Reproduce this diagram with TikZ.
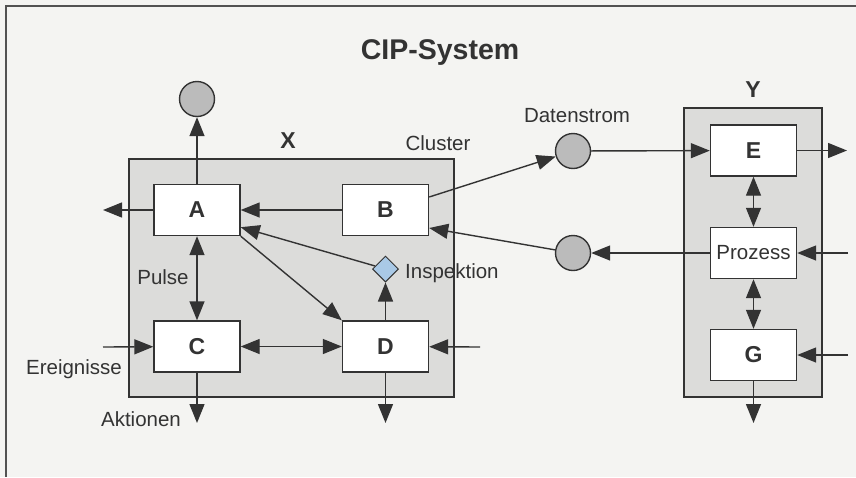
\documentclass[tikz,border=0pt]{standalone}
\usepackage{fontspec}
\setmainfont{Liberation Sans}
\usetikzlibrary{arrows.meta,shapes.geometric,calc}
\definecolor{bgc}{HTML}{F4F4F2}
\definecolor{linec}{HTML}{333333}
\definecolor{txtc}{HTML}{333333}
\definecolor{clusterc}{HTML}{DCDCDA}
\definecolor{circc}{HTML}{BBBBBB}
\definecolor{diac}{HTML}{A9C9E6}
\tikzset{
  lbl/.style={font=\fontsize{20.5}{24}\selectfont, text=txtc, inner sep=0pt},
  hdr/.style={font=\bfseries\fontsize{23}{26}\selectfont, text=txtc, inner sep=0pt},
  clusterbox/.style={draw=linec, line width=1.4pt, fill=clusterc, inner sep=0pt},
  blockbox/.style={draw=linec, line width=1.4pt, fill=white, minimum width=86pt, minimum height=51pt, inner sep=0pt, font=\bfseries\fontsize{23}{26}\selectfont, text=txtc},
  procbox/.style={blockbox, font=\fontsize{20.5}{24}\selectfont},
  flowcirc/.style={circle, draw=linec, line width=1.4pt, fill=circc, minimum size=35pt, inner sep=0pt},
  inspd/.style={diamond, draw=linec, line width=1pt, fill=diac, minimum width=26pt, minimum height=26pt, inner sep=0pt},
  arr/.style={draw=linec, line width=1.4pt, -{Triangle[length=19pt,width=15pt]}},
  darr/.style={draw=linec, line width=1.4pt, {Triangle[length=19pt,width=15pt]}-{Triangle[length=19pt,width=15pt]}}
}
\begin{document}
\begin{tikzpicture}[x=1pt,y=-1pt]
\useasboundingbox (0,0) rectangle (856,477);
\fill[bgc] (0,0) rectangle (856,477);
\draw[draw=linec!85, line width=1.5pt] (856,6) -- (6,6) -- (6,477);

% clusters
\node[clusterbox, minimum width=325pt, minimum height=238pt] (X) at (291.5,278) {};
\node[clusterbox, minimum width=138pt, minimum height=289pt] (Y) at (753,252.5) {};

% titles and labels
\node[text=txtc, inner sep=0pt, font=\bfseries\fontsize{28.5}{32}\selectfont, anchor=base] (title) at (440,59) {CIP-System};
\node[hdr, anchor=base] (xl) at (288,148) {X};
\node[hdr, anchor=base] (yl) at (753,97) {Y};
\node[lbl, anchor=base] (cl) at (438,150) {Cluster};
\node[lbl, anchor=base] (dl) at (577,122) {Datenstrom};
\node[lbl, anchor=base] (pl) at (163,284) {Pulse};
\node[lbl, anchor=base] (el) at (74,374) {Ereignisse};
\node[lbl, anchor=base] (al) at (141,426.5) {Aktionen};
\node[lbl, anchor=base west] (il) at (405,278) {Inspektion};

% blocks
\node[blockbox] (A) at (197,210) {A};
\node[blockbox] (B) at (385.5,210) {B};
\node[blockbox] (C) at (197,346.5) {C};
\node[blockbox] (D) at (385.5,346.5) {D};
\node[blockbox] (E) at (753.5,150.5) {E};
\node[procbox] (P) at (753.5,253) {Prozess};
\node[blockbox] (G) at (753.5,355) {G};

% circles and diamond
\node[flowcirc] (ctop) at (197,99) {};
\node[flowcirc] (c1) at (573,151) {};
\node[flowcirc] (c2) at (573,253) {};
\node[inspd] (insp) at (385.5,269) {};

% free ends
\coordinate (aL) at (103,210);
\coordinate (eIn) at (103,347);
\coordinate (cOut) at (197,423);
\coordinate (dOut) at (385.5,423);
\coordinate (dIn) at (480,347);
\coordinate (eOut) at (847,150.5);
\coordinate (pIn) at (848,253);
\coordinate (gIn) at (848,355);
\coordinate (gOut) at (753.5,423);

% connectors cluster X
\draw[arr] (A) -- (ctop);
\draw[arr] (A) -- (aL);
\draw[arr] (B) -- (A);
\draw[darr] (A) -- (C);
\draw[darr] (C) -- (D);
\draw[arr] (insp) -- ($(A.south east)+(0,-9)$);
\draw[arr] (A.south east) -- (D.north west);
\draw[arr] (D) -- (insp);
\draw[arr] (eIn) -- (C);
\draw[arr] (C) -- (cOut);
\draw[arr] (D) -- (dOut);
\draw[arr] (dIn) -- (D);

% between clusters
\draw[arr] ($(B.east)+(0,-13)$) -- (c1);
\draw[arr] (c2) -- ($(B.east)+(0,18)$);

% connectors cluster Y
\draw[arr] (c1) -- (E);
\draw[arr] (E) -- (eOut);
\draw[darr] (E) -- (P);
\draw[arr] (P) -- (c2);
\draw[arr] (pIn) -- (P);
\draw[darr] (P) -- (G);
\draw[arr] (gIn) -- (G);
\draw[arr] (G) -- (gOut);
\end{tikzpicture}
\end{document}
